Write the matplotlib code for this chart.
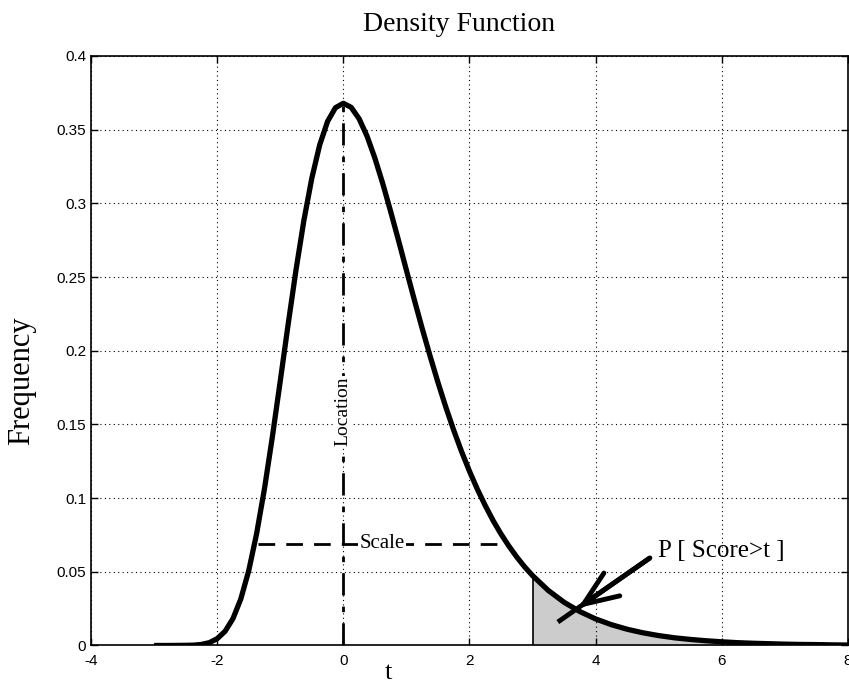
import numpy as np
import matplotlib
matplotlib.use('Agg')
import matplotlib.pyplot as plt
from matplotlib.ticker import FormatStrFormatter

# values
t = [-3.0, -2.75, -2.5, -2.375, -2.25, -2.125, -2.0, -1.875, -1.75, -1.625, -1.5, -1.375,
     -1.25, -1.125, -1.0, -0.875, -0.75, -0.625, -0.5, -0.375, -0.25, -0.125,
     0.0, 0.125, 0.25, 0.375, 0.5, 0.625, 0.75, 0.875, 1.0, 1.125, 1.25, 1.375,
     1.5, 1.625, 1.75, 1.875, 2.0, 2.125, 2.25, 2.375, 2.5, 2.625, 2.75, 2.875,
     3.0, 3.25, 3.5, 3.75, 4.0, 4.25, 4.5, 4.75, 5.0, 5.25, 5.5, 5.75,
     6.0, 6.25, 6.5, 6.75, 7.0, 7.25, 7.5, 7.75, 8.0]
freq = [0.0, 0.0, 0.0001, 0.0002, 0.0007, 0.0019, 0.0046, 0.0096, 0.0182, 0.0316, 0.0507, 0.0758,
        0.1064, 0.1416, 0.1794, 0.2179, 0.2549, 0.2885, 0.3170, 0.3396, 0.3556, 0.3649,
        0.3679, 0.3651, 0.3574, 0.3457, 0.3307, 0.3134, 0.2945, 0.2748, 0.2546, 0.2346, 0.2151, 0.1964,
        0.1785, 0.1617, 0.1460, 0.1315, 0.1182, 0.1060, 0.0949, 0.0847, 0.0756, 0.0674, 0.0600, 0.0533,
        0.0474, 0.0373, 0.0293, 0.0230, 0.0180, 0.0141, 0.0110, 0.0086, 0.0067, 0.0052, 0.0041, 0.0032,
        0.0025, 0.0019, 0.0015, 0.0012, 0.0009, 0.0007, 0.0006, 0.0004, 0.0003]

location = 0.0
peak = 0.3679
scale_y = 0.069
scale_x = [-1.35, 2.5]
tail_start = 3.0
tail_end = 6.75

xticks = [-4, -2, 0, 2, 4, 6, 8]
yticks = [0, 0.05, 0.1, 0.15, 0.2, 0.25, 0.3, 0.35, 0.4]

serif = ['Liberation Serif', 'DejaVu Serif']
plt.rcParams['font.family'] = ['Liberation Sans', 'DejaVu Sans']
plt.rcParams['axes.unicode_minus'] = False

t = np.array(t)
freq = np.array(freq)

fig = plt.figure(figsize=(8.49, 6.85), dpi=100)
ax = fig.add_axes([0.1072, 0.0577, 0.8916, 0.8606])

# shaded tail
mask = (t >= tail_start) & (t <= tail_end)
ax.fill_between(t[mask], 0, freq[mask], color='#cccccc', linewidth=0, zorder=1)
ax.plot([tail_start, tail_start], [0, freq[t == tail_start][0]], color='black', lw=1.2, zorder=2)

# density curve
ax.plot(t, freq, color='black', lw=3.8, solid_capstyle='butt', solid_joinstyle='round', zorder=4)

# location and scale markers
ax.plot([location, location], [0, peak], color='black', lw=2, linestyle=(0, (8, 4, 2, 4)), zorder=3)
ax.text(location, 0.159, 'Location', rotation=90, ha='center', va='center', fontsize=14,
        family=serif, bbox=dict(facecolor='white', edgecolor='none', pad=0), zorder=5)
ax.plot(scale_x, [scale_y, scale_y], color='black', lw=2, linestyle=(0, (6, 4)), zorder=3)
ax.text(0.61, scale_y, 'Scale', ha='center', va='center', fontsize=15, family=serif,
        bbox=dict(facecolor='white', edgecolor='none', pad=1), zorder=5)

# arrow to tail
ax.plot([4.86, 3.40], [0.0594, 0.0159], color='black', lw=3.5, solid_capstyle='butt', zorder=6)
ax.annotate('', xy=(3.72, 0.0254), xytext=(4.86, 0.0594),
            arrowprops=dict(arrowstyle='->, head_length=1.0, head_width=0.4', lw=3.5,
                            color='black', mutation_scale=25, shrinkA=0, shrinkB=0), zorder=6)
ax.text(4.99, 0.0641, 'P [ Score>t ]', ha='left', va='center', fontsize=18, family=serif)

ax.set_xlim(-4, 8)
ax.set_ylim(0, 0.4)
ax.set_xticks(xticks)
ax.set_yticks(yticks)
ax.yaxis.set_major_formatter(FormatStrFormatter('%g'))
ax.tick_params(direction='in', top=True, right=True, length=5, labelsize=11, width=1)
ax.tick_params(axis='x', pad=6)
ax.grid(True, color='black', linestyle=(0, (1, 3)), lw=0.8)
for s in ax.spines.values():
    s.set_linewidth(1.2)

ax.set_title('Density Function', fontsize=20, family=serif, x=0.486, pad=18)
ax.set_xlabel('t', fontsize=19, family=serif)
ax.xaxis.set_label_coords(0.393, -0.028)
ax.set_ylabel('Frequency', fontsize=22, family=serif)
ax.yaxis.set_label_coords(-0.072, 0.45)

fig.savefig('out.png', dpi=100)
